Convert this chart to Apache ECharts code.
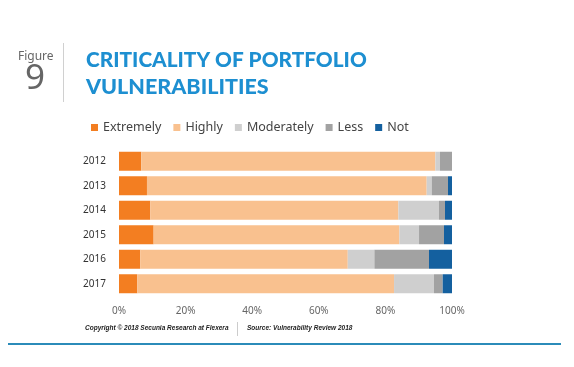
<!DOCTYPE html>
<html><head><meta charset="utf-8">
<script src="https://cdn.jsdelivr.net/npm/echarts@6/dist/echarts.min.js"></script>
<style>html,body{margin:0;padding:0;background:#fff}#c{width:574px;height:367px}</style>
</head><body><div id="c"></div>
<script>
const years = ['2012','2013','2014','2015','2016','2017'];
const seriesNames = ['Extremely','Highly','Moderately','Less','Not'];
const extremely  = [6.7, 8.4, 9.4, 10.4, 6.4, 5.5];
const highly     = [88.3, 84.0, 74.5, 73.8, 62.3, 77.1];
const moderately = [1.4, 1.5, 12.2, 5.9, 8.0, 12.0];
const less       = [3.6, 4.9, 1.8, 7.5, 16.4, 2.6];
const not        = [0.0, 1.2, 2.1, 2.4, 6.9, 2.8];
const xTicks = [0, 20, 40, 60, 80, 100];
const colors = ['#f37e21','#f9c18f','#cfcfcf','#a2a2a2','#14609f'];
const values = [extremely, highly, moderately, less, not];

const chart = echarts.init(document.getElementById('c'));
chart.setOption({
  animation: false,
  color: colors,
  legend: {
    left: 86, top: 116,
    icon: 'rect', itemWidth: 7, itemHeight: 7, itemGap: 12,
    textStyle: {fontFamily: 'Noto Sans', fontSize: 12.5, color: '#444'},
    data: seriesNames
  },
  grid: {left: 119, right: 122, top: 149, bottom: 71},
  xAxis: {
    type: 'value', min: 0, max: 100, interval: 20,
    axisLine: {show: false}, axisTick: {show: false}, splitLine: {show: false},
    axisLabel: {formatter: v => xTicks.includes(v) ? v + '%' : '', fontFamily: 'Noto Sans', fontSize: 10, color: '#666', margin: 10}
  },
  yAxis: {
    type: 'category', data: years, inverse: true,
    axisLine: {show: false}, axisTick: {show: false},
    axisLabel: {fontFamily: 'Noto Sans', fontSize: 10, color: '#333', margin: 13}
  },
  series: seriesNames.map((n, i) => ({
    name: n, type: 'bar', stack: 'all', barWidth: 19,
    data: values[i]
  })),
  graphic: [
    {type: 'text', left: 18, top: 51, style: {text: 'Figure', font: '12px "Noto Sans"', fill: '#666'}},
    {type: 'text', left: 25, top: 62, style: {text: '9', font: '35px "Noto Sans"', fill: '#666'}},
    {type: 'rect', shape: {x: 63, y: 43, width: 1, height: 59}, style: {fill: '#d0d0d0'}},
    {type: 'text', left: 86, top: 50, style: {text: 'CRITICALITY OF PORTFOLIO', font: '900 20.8px Lato', fill: '#1d8fd1'}},
    {type: 'text', left: 86, top: 76, style: {text: 'VULNERABILITIES', font: '900 21.5px Lato', fill: '#1d8fd1'}},
    {type: 'text', left: 85, top: 325, style: {text: 'Copyright \u00a9 2018 Secunia Research at Flexera', font: 'italic bold 6.5px "Liberation Sans"', fill: '#222'}},
    {type: 'rect', shape: {x: 237, y: 322, width: 1, height: 14}, style: {fill: '#ccc'}},
    {type: 'text', left: 247, top: 325, style: {text: 'Source: Vulnerability Review 2018', font: 'italic bold 6.5px "Liberation Sans"', fill: '#222'}},
    {type: 'rect', shape: {x: 8, y: 343, width: 553, height: 2}, style: {fill: '#2b8bb9'}}
  ]
});
</script></body></html>
